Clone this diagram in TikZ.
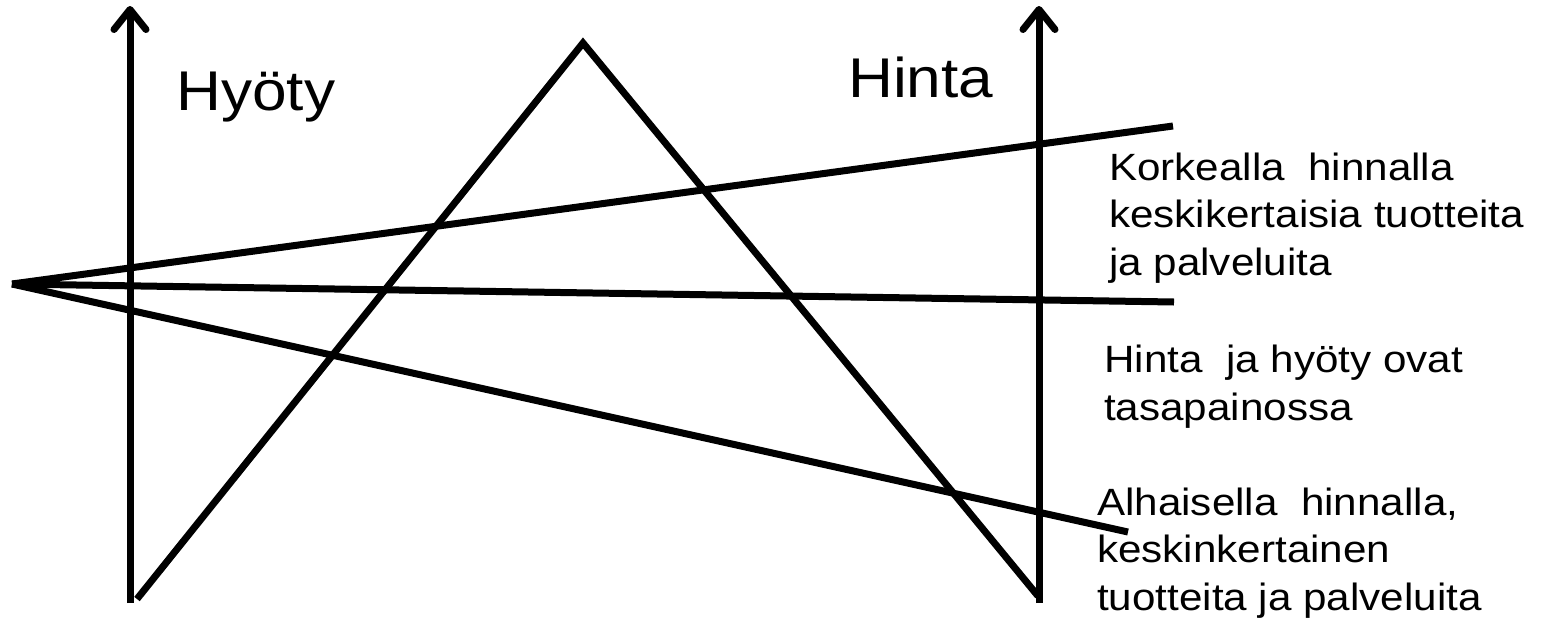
\documentclass[tikz,border=0pt]{standalone}
\usepackage{fontspec}
\setmainfont[FakeStretch=1.11]{Liberation Sans}
\usetikzlibrary{arrows.meta}
\begin{document}
\begin{tikzpicture}[x=1pt,y=-1pt,
  thick line/.style={line width=7pt, line cap=butt},
  axis/.style={thick line, -{Straight Barb[length=20pt,width=32pt,line width=7pt,round]}},
  title/.style={font=\fontsize{56}{60}\selectfont, inner sep=0pt, anchor=base west},
  label/.style={font=\fontsize{38}{47.5}\selectfont, inner sep=0pt, anchor=base west, align=left}]
\useasboundingbox (0,0) rectangle (1542,632);
% axes
\coordinate (lb) at (130,603);
\coordinate (lt) at (130,6);
\coordinate (rb) at (1039,603);
\coordinate (rt) at (1039,6);
\draw[axis] (lb) -- (lt);
\draw[axis] (rb) -- (rt);
% triangle
\coordinate (apex) at (583,43);
\coordinate (tl) at (137,599);
\coordinate (tr) at (1038,596);
\draw[thick line, line join=miter] (tl) -- (apex) -- (tr);
% fan
\coordinate (o) at (12,284);
\coordinate (e1) at (1173,126);
\coordinate (e2) at (1174,302);
\coordinate (e3) at (1128,532);
\draw[thick line] (o) -- (e1);
\draw[thick line] (o) -- (e2);
\draw[thick line] (o) -- (e3);
% texts
\node[title] (hy) at (176,110) {Hyöty};
\node[title] (hi) at (848,97) {Hinta};
\node[label] (k) at (1109,275) {Korkealla\ \ hinnalla\\keskikertaisia tuotteita\\ja palveluita};
\node[label] (t) at (1104,420) {Hinta\ \ ja hyöty ovat\\tasapainossa};
\node[label] (a) at (1097,610) {Alhaisella\ \ hinnalla,\\keskinkertainen\\tuotteita ja palveluita};
\end{tikzpicture}
\end{document}
